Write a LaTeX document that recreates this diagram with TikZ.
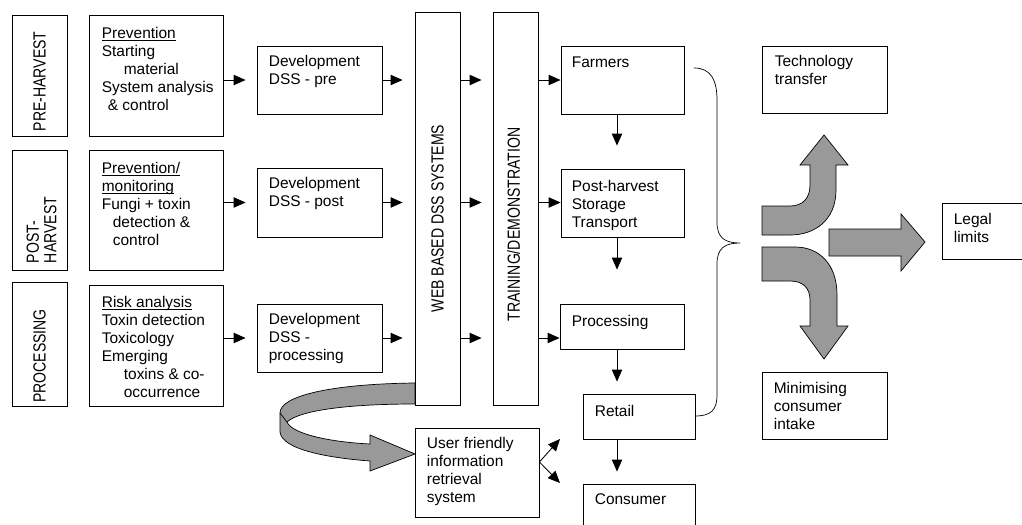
\documentclass[tikz,border=0pt]{standalone}
\usepackage{fontspec}
\setmainfont{Liberation Sans}
\newfontfamily\narrowfont{Liberation Sans}[FakeStretch=0.8]
\usetikzlibrary{arrows.meta,fit}
\definecolor{arrowgray}{gray}{0.6}
\newcommand\topicline[1]{\underline{\smash{#1}}\vphantom{#1}}

\tikzset{
  box/.style={draw, line width=0.6pt, inner sep=0pt, fit={#1}},
  inside/.style={anchor=north west, inner sep=0pt, align=left,
    font=\fontsize{11}{12.8}\selectfont},
  side/.style={rotate=90, inner sep=0pt, align=left,
    font=\narrowfont\fontsize{12.5}{12.5}\selectfont},
  arr/.style={-{Triangle[length=3mm,width=2.6mm]}, line width=0.6pt},
  bigarrow/.style={fill=arrowgray, draw, line width=0.5pt},
}

\begin{document}
\begin{tikzpicture}[x=0.25mm, y=-0.25mm]
\useasboundingbox (0,0) rectangle (1022,525);

% ribbon from the web systems down to the retrieval system
\filldraw[bigarrow] (415,383) .. controls (330,384) and (280,396) .. (280,413)
  -- (280,432) .. controls (282,450) and (330,458) .. (370,461)
  -- (370,471) -- (415,454) -- (370,435) -- (370,444)
  .. controls (330,442) and (292,434) .. (287,422)
  .. controls (300,410) and (350,404) .. (415,404) -- cycle;
\draw[line width=0.5pt] (280,413) -- (287,422);

% stages
\node[box={(12,15)(67,136)}]   (lpre)  {};
\node[box={(12,150)(67,270)}]  (lpost) {};
\node[box={(12,282)(67,406)}]  (lproc) {};
\node[side] (lpre-t)  at ([shift={(0,6)}]lpre.center)   {PRE-HARVEST};
\node[side] (lpost-t) at ([shift={(2,20)}]lpost.center) {POST-\\HARVEST};
\node[side] (lproc-t) at ([shift={(0,12)}]lproc.center) {PROCESSING};

\node[box={(89,15)(223,136)}]  (ppre)  {};
\node[box={(89,150)(223,270)}] (ppost) {};
\node[box={(89,285)(223,406)}] (pproc) {};
\node[inside] (ppre-t) at ([shift={(13,12)}]ppre.north west)
  {\topicline{Prevention}\\Starting\\\hspace{5.5mm}material\\System analysis\\\hspace{1.5mm}\& control};
\node[inside] (ppost-t) at ([shift={(13,12)}]ppost.north west)
  {\topicline{Prevention/}\\\topicline{monitoring}\\Fungi + toxin\\\hspace{2.75mm}detection \&\\\hspace{2.75mm}control};
\node[inside] (pproc-t) at ([shift={(13,11)}]pproc.north west)
  {\topicline{Risk analysis}\\Toxin detection\\Toxicology\\Emerging\\\hspace{5.5mm}toxins \& co-\\\hspace{5.5mm}occurrence};

% DSS development
\node[box={(257,46)(382,114)}]  (dpre)  {};
\node[box={(257,168)(382,237)}] (dpost) {};
\node[box={(257,304)(382,372)}] (dproc) {};
\node[inside] (dpre-t)  at ([shift={(12,9)}]dpre.north west)  {Development\\DSS - pre};
\node[inside] (dpost-t) at ([shift={(12,9)}]dpost.north west) {Development\\DSS - post};
\node[inside] (dproc-t) at ([shift={(12,9)}]dproc.north west) {Development\\DSS -\\processing};

% the two tall bars
\node[box={(415,12)(460,405)}] (web)   {};
\node[box={(493,12)(538,405)}] (train) {};
\node[side] (web-t)   at ([shift={(0,10)}]web.center)    {WEB BASED DSS SYSTEMS};
\node[side] (train-t) at ([shift={(-2,16)}]train.center) {TRAINING/DEMONSTRATION};

% food chain
\node[box={(561,46)(684,114)}]  (farm)   {};
\node[box={(561,169)(684,237)}] (posth)  {};
\node[box={(560,304)(684,349)}] (proc)   {};
\node[box={(583,394)(695,439)}] (retail) {};
\node[box={(583,484)(695,545)}] (cons)   {};
\node[box={(415,428)(539,517)}] (uf)     {};
\node[inside] (farm-t)   at ([shift={(11,11)}]farm.north west)   {Farmers};
\node[inside] (posth-t)  at ([shift={(11,11)}]posth.north west)  {Post-harvest\\Storage\\Transport};
\node[inside] (proc-t)   at ([shift={(12,11)}]proc.north west)   {Processing};
\node[inside] (retail-t) at ([shift={(12,11)}]retail.north west) {Retail};
\node[inside] (cons-t)   at ([shift={(12,10)}]cons.north west)   {Consumer};
\node[inside] (uf-t)     at ([shift={(12,9)}]uf.north west)
  {User friendly\\information\\retrieval\\system};

% outcomes
\node[box={(762,46)(887,113)}]   (tech)  {};
\node[box={(942,203)(1035,259)}] (legal) {};
\node[box={(762,372)(887,439)}]  (mini)  {};
\node[inside] (tech-t)  at ([shift={(13,9)}]tech.north west)   {Technology\\transfer};
\node[inside] (legal-t) at ([shift={(12,10)}]legal.north west) {Legal\\limits};
\node[inside] (mini-t)  at ([shift={(12,10)}]mini.north west)  {Minimising\\consumer\\intake};

% arrows
\foreach \a/\b in {ppre/dpre,ppost/dpost,pproc/dproc}
  \draw[arr, shorten >=2.75mm] (\a.east |- \b.west) -- (\b.west);
\foreach \b/\c in {dpre/farm,dpost/posth,dproc/proc} {
  \draw[arr, shorten >=3mm] (\b.east) -- (\b.east -| web.west);
  \draw[arr, shorten >=2.75mm] (web.east |- \b.east) -- (train.west |- \b.east);
  \draw[arr] (train.east |- \b.east) -- (\c.west |- \b.east);
}
\coordinate (col) at (617,0);
\foreach \a/\b/\s in {farm/posth/5.75mm,posth/proc/8.5mm,proc/retail/3mm,retail/cons/3mm}
  \draw[arr, shorten >=\s] (\a.south -| col) -- (\b.north -| col);
\coordinate (fork) at (539,462);
\coordinate (toretail) at (560,439);
\coordinate (tocons) at (560,483);
\draw[arr] (uf.east |- fork) -- (toretail);
\draw[arr] (uf.east |- fork) -- (tocons);

% brace
\draw[line width=0.5pt] (694,68) .. controls (711,68) and (717,80) .. (717,100)
  -- (717,222) .. controls (717,238) and (725,243) .. (740,243)
  .. controls (725,243) and (717,248) .. (717,264)
  -- (717,395) .. controls (717,410) and (711,416) .. (695,416);

% big grey arrows
\filldraw[bigarrow] (762,206) -- (790,206) .. controls (803,206) and (810,198) .. (810,185)
  -- (810,165) -- (800,165) -- (824,135) -- (848,165) -- (836,165) -- (836,190)
  .. controls (836,220) and (815,235) .. (790,235) -- (762,235) -- cycle;
\filldraw[bigarrow] (829,229) -- (901,229) -- (901,214) -- (925,242)
  -- (901,271) -- (901,256) -- (829,256) -- cycle;
\filldraw[bigarrow] (762,247) -- (795,247) .. controls (820,247) and (837,265) .. (837,295)
  -- (837,326) -- (848,326) -- (824,359) -- (800,326) -- (810,326) -- (810,300)
  .. controls (810,288) and (803,281) .. (790,281) -- (762,281) -- cycle;
\end{tikzpicture}
\end{document}
